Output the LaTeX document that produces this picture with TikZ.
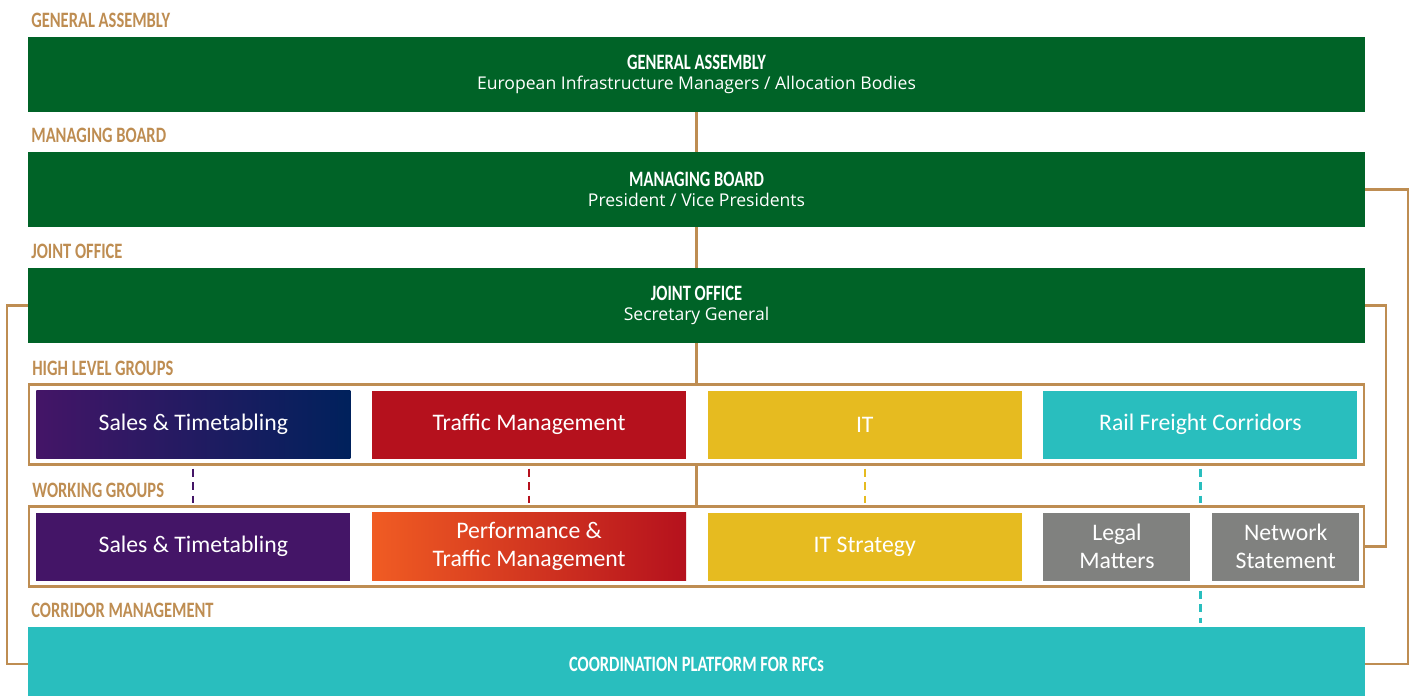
\documentclass[tikz,border=0pt]{standalone}
\usepackage{fontspec}
\setmainfont{Carlito}
\newfontfamily\subfont{Open Sans}
\newfontfamily\capsfont[FakeStretch=0.75]{Carlito Bold}
\usetikzlibrary{positioning,calc}

\definecolor{boardgreen}{RGB}{0,99,39}
\definecolor{framebrown}{RGB}{190,141,82}
\definecolor{stpurple}{RGB}{68,21,103}
\definecolor{stnavy}{RGB}{0,33,92}
\definecolor{tmred}{RGB}{181,17,29}
\definecolor{tmorange}{RGB}{240,92,35}
\definecolor{ityellow}{RGB}{230,187,32}
\definecolor{rfcteal}{RGB}{41,190,190}
\definecolor{wggrey}{RGB}{128,129,127}

\tikzset{
  org schemes/.style = {
    node distance = 0.8cm,
    % Ebenen
    greenbar/.style = {fill=boardgreen, text=white, align=center,
      minimum width=26.74cm, minimum height=1.5cm, inner sep=0pt,
      outer sep=0pt, font=\fontsize{10}{13}\selectfont},
    groupbox/.style = {draw=framebrown, line width=1.6pt, fill=white,
      outer sep=0pt, minimum width=26.7cm, minimum height=1.6cm},
    levellabel/.style = {anchor=base west, inner sep=0pt, text=framebrown,
      font=\capsfont\fontsize{12.5}{14}\selectfont},
    % Zellen
    cell/.style = {text=white, align=center, inner sep=0pt,
      minimum width=6.28cm, minimum height=1.36cm,
      font=\fontsize{13.5}{16}\selectfont},
    smallcell/.style = {cell, minimum width=2.94cm, fill=wggrey},
    % Linien
    link/.style = {draw=framebrown, line width=1.6pt},
    dashlink/.style = {line width=1.2pt, dash pattern=on 1.6mm off 1.1mm,
      shorten <=0.08cm, shorten >=0.08cm},
  }
}

\begin{document}
\begin{tikzpicture}[org schemes]
    \useasboundingbox (0,0) rectangle (28.3,13.9);

    % Gremien
    \node[greenbar] (ga) at (13.93,12.41)
      {{\capsfont\fontsize{12.5}{14}\selectfont GENERAL ASSEMBLY}\\[-1.7pt]
       \subfont European Infrastructure Managers / Allocation Bodies};
    \node[greenbar, below = of ga] (mb)
      {{\capsfont\fontsize{12.5}{14}\selectfont MANAGING BOARD}\\[-1.7pt]
       \subfont President / Vice Presidents};
    \node[greenbar, below = 0.82cm of mb] (jo)
      {{\capsfont\fontsize{12.5}{14}\selectfont JOINT OFFICE}\\[-1.7pt]
       \subfont Secretary General};
    \node[groupbox, below = 0.83cm of jo] (hlg) {};
    \node[groupbox, below = 0.84cm of hlg] (wg) {};
    \node[greenbar, fill=rfcteal, minimum height=1.48cm, below = 0.81cm of wg] (cp)
      {\capsfont\fontsize{12.5}{14}\selectfont COORDINATION PLATFORM FOR RFCs};

    % Beschriftungen
    \foreach \lvl/\txt in {ga/GENERAL ASSEMBLY, mb/MANAGING BOARD,
        jo/JOINT OFFICE, hlg/HIGH LEVEL GROUPS, wg/WORKING GROUPS,
        cp/CORRIDOR MANAGEMENT}
      \node[levellabel] (lbl-\lvl) at ([shift={(0.06,0.19)}]\lvl.north west) {\txt};

    % High Level Groups
    \begin{scope}[node distance=0.42cm]
      \node[cell, left color=stpurple, right color=stnavy, anchor=west]
        (st-h) at ([xshift=0.14cm]hlg.west) {Sales \& Timetabling};
      \node[cell, fill=tmred,    right = of st-h] (tm-h)  {Traffic Management};
      \node[cell, fill=ityellow, right = of tm-h] (it-h)  {IT};
      \node[cell, fill=rfcteal,  right = of it-h] (rfc-h) {Rail Freight Corridors};
    \end{scope}

    % Working Groups
    \begin{scope}[node distance=0.42cm]
      \node[cell, fill=stpurple, anchor=west]
        (st-w) at ([xshift=0.14cm]wg.west) {Sales \& Timetabling};
      \node[cell, left color=tmorange, right color=tmred, right = of st-w]
        (tm-w) {Performance \&\\ Traffic Management};
      \node[cell, fill=ityellow, right = of tm-w] (it-w) {IT Strategy};
      \node[smallcell, right = of it-w] (lm-w) {Legal\\ Matters};
      \node[smallcell, right = of lm-w] (ns-w) {Network\\ Statement};
    \end{scope}

    % Verbindungen
    \draw[link] (ga) -- (mb) (mb) -- (jo) (jo) -- (hlg) (hlg) -- (wg);
    \draw[link] (mb.east) -- ++(0.86,0) |- (cp.east);
    \draw[link] (jo.east) -- ++(0.42,0) |- (wg.east);
    \draw[link] (jo.west) -- ++(-0.42,0) |- (cp.west);

    \draw[dashlink, stpurple] (st-h.south |- hlg.south) -- (st-h.south |- wg.north);
    \draw[dashlink, tmred]    (tm-h.south |- hlg.south) -- (tm-h.south |- wg.north);
    \draw[dashlink, ityellow] (it-h.south |- hlg.south) -- (it-h.south |- wg.north);
    \draw[dashlink, rfcteal]  (rfc-h.south |- hlg.south) -- (rfc-h.south |- wg.north);
    \draw[dashlink, rfcteal]  (rfc-h.south |- wg.south) -- (rfc-h.south |- cp.north);

\end{tikzpicture}
\end{document}
